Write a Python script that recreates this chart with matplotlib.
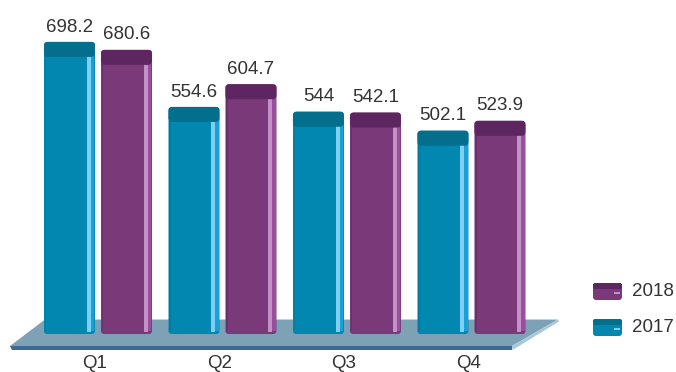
import numpy as np
import matplotlib
matplotlib.use("Agg")
import matplotlib.pyplot as plt
from matplotlib.patches import FancyBboxPatch, Polygon, Rectangle
from matplotlib.transforms import blended_transform_factory

plt.rcParams['font.family'] = ['Liberation Sans', 'DejaVu Sans']

# data
quarters = ["Q1", "Q2", "Q3", "Q4"]
sales2017 = [698.2, 554.6, 544, 502.1]
sales2018 = [680.6, 604.7, 542.1, 523.9]
series = ["2017", "2018"]

# styling per series: body, cap, highlight stripe, right edge
styles = {
    "2017": dict(body='#0287b0', cap='#046e8d', hi='#7fd0f0', edge='#1aa0d8'),
    "2018": dict(body='#7a3a7a', cap='#5e2660', hi='#c291c8', edge='#9a4e9e'),
}
textColor = '#333333'
fontSize = 13.5

W, H = 676, 372
fig = plt.figure(figsize=(W / 100, H / 100), dpi=100)
ax = fig.add_axes([0, 0, 1, 1])
ax.set_xlim(-0.787, 4.643)
ax.set_ylim(-30.9, 790.8)
ax.axis('off')

pxX = 1 / 124.5          # one pixel in x data units
pxY = 1 / 0.4527         # one pixel in y data units
aspect = pxY / pxX       # for rounded boxes

baseVal = 53             # where the bars sit on the floor
barW = 51 * pxX
offset = 28.5 * pxX

# floor slab
floorBack, floorFront, floorBand = 85, 26.5, 17.7
ax.add_patch(Polygon([(-0.426, floorBack), (3.695, floorBack), (3.325, floorFront), (-0.707, floorFront)],
                     closed=True, fc='#7ea2b5', ec='none', zorder=1))
ax.add_patch(Polygon([(-0.707, floorFront), (3.325, floorFront), (3.325, floorBand),
                      (-0.69, floorBand)], closed=True, fc='#3d6a95', ec='none', zorder=1))
ax.add_patch(Polygon([(3.325, floorFront), (3.695, floorBack), (3.705, floorBack - 4), (3.33, floorBand)],
                     closed=True, fc='#a7c8da', ec='none', zorder=1))


def drawBar(xc, val, st):
    x0 = xc - barW / 2
    r = 3 * pxX
    ax.add_patch(FancyBboxPatch((x0, baseVal), barW, val - baseVal,
                                boxstyle="round,pad=0,rounding_size=%f" % r,
                                mutation_aspect=aspect, fc=st['body'], ec='none', zorder=3))
    # dark left rim
    ax.add_patch(Rectangle((x0 + 1 * pxX, baseVal + 3 * pxY), 1.5 * pxX, val - baseVal - 6 * pxY,
                           fc=st['cap'], ec='none', alpha=0.5, zorder=4))
    # highlight stripe and edge
    ax.add_patch(Rectangle((x0 + barW - 8 * pxX, baseVal + 2 * pxY), 4 * pxX, val - baseVal - 4 * pxY,
                           fc=st['hi'], ec='none', zorder=4))
    ax.add_patch(Rectangle((x0 + barW - 4 * pxX, baseVal + 3 * pxY), 3.5 * pxX, val - baseVal - 6 * pxY,
                           fc=st['edge'], ec='none', zorder=4))
    # top cap
    capH = 15 * pxY
    ax.add_patch(FancyBboxPatch((x0, val - capH), barW, capH,
                                boxstyle="round,pad=0,rounding_size=%f" % (4 * pxX),
                                mutation_aspect=aspect, fc=st['cap'], ec='none', zorder=5))
    ax.annotate("%g" % val, (xc, val), xytext=(0, 7.5), textcoords='offset points',
                ha='center', va='baseline', fontsize=fontSize, color=textColor, zorder=6)


xs = np.arange(len(quarters))
for i, (a, b) in enumerate(zip(sales2017, sales2018)):
    drawBar(xs[i] - offset, a, styles["2017"])
    drawBar(xs[i] + offset, b, styles["2018"])

# category labels under the floor
trans = blended_transform_factory(ax.transData, ax.transAxes)
for i, q in enumerate(quarters):
    ax.text(xs[i] - 3 * pxX, 4 / H, q, transform=trans, ha='center', va='baseline',
            fontsize=fontSize, color=textColor)

# legend drawn in pixel space
lax = fig.add_axes([0, 0, 1, 1])
lax.set_xlim(0, W)
lax.set_ylim(H, 0)
lax.axis('off')
legendRows = [("2018", 283), ("2017", 319)]
for name, top in legendRows:
    st = styles[name]
    lax.add_patch(FancyBboxPatch((593, top), 29, 17, boxstyle="round,pad=0,rounding_size=3",
                                 fc=st['body'], ec='none'))
    lax.add_patch(FancyBboxPatch((593, top), 29, 6, boxstyle="round,pad=0,rounding_size=2",
                                 fc=st['cap'], ec='none'))
    lax.add_patch(Rectangle((614, top + 9), 6, 2, fc=st['hi'], ec='none'))
    lax.text(632, top + 9, name, ha='left', va='center', fontsize=fontSize, color=textColor)

fig.savefig("out.png", dpi=100)
